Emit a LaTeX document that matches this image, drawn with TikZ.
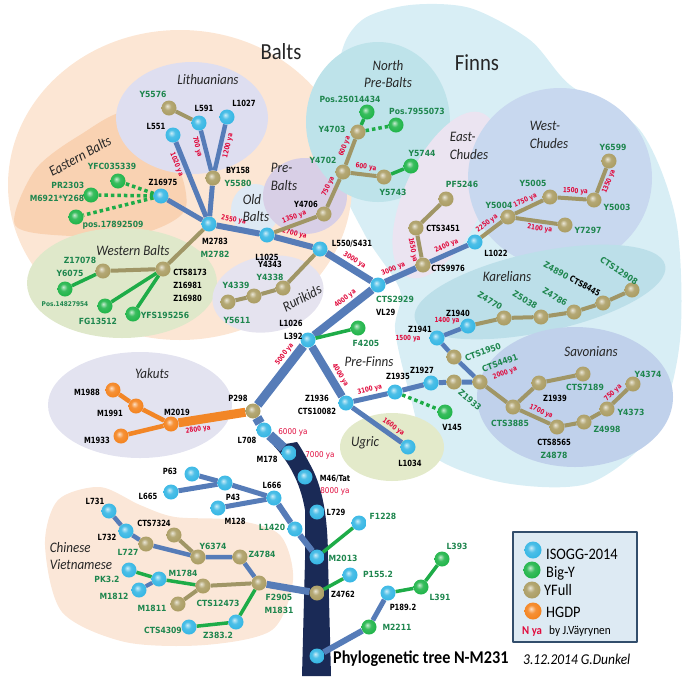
\documentclass[tikz,border=0pt]{standalone}
\usepackage{fontspec}
\setmainfont{Carlito}
\newfontfamily\labfont[FakeStretch=0.8]{DejaVu Sans}
\newfontfamily\glabfont[FakeStretch=0.9]{DejaVu Sans}
\newfontfamily\capfont[FakeStretch=0.9]{Carlito}
\definecolor{isoblue}{RGB}{52,182,228}
\definecolor{bigygreen}{RGB}{30,180,72}
\definecolor{yfullolive}{RGB}{170,156,98}
\definecolor{hgdporange}{RGB}{244,130,28}
\definecolor{edgeblue}{RGB}{86,124,184}
\definecolor{edgeolive}{RGB}{160,150,102}
\definecolor{edgegreen}{RGB}{30,172,72}
\definecolor{edgeorange}{RGB}{242,134,38}
\definecolor{trunknavy}{RGB}{26,42,86}
\definecolor{labgreen}{RGB}{30,134,78}
\definecolor{yared}{RGB}{224,10,60}
\definecolor{rBalts}{RGB}{252,230,212}
\definecolor{rEast}{RGB}{249,210,178}
\definecolor{rLith}{RGB}{222,222,240}
\definecolor{rWest}{RGB}{223,232,202}
\definecolor{rOld}{RGB}{222,233,244}
\definecolor{rPre}{RGB}{216,207,230}
\definecolor{rRuri}{RGB}{229,227,239}
\definecolor{rFinns}{RGB}{216,238,245}
\definecolor{rNorth}{RGB}{190,227,234}
\definecolor{rEastCh}{RGB}{235,228,241}
\definecolor{rWestCh}{RGB}{200,216,239}
\definecolor{rKar}{RGB}{188,223,233}
\definecolor{rSavo}{RGB}{192,209,235}
\definecolor{rUgric}{RGB}{227,234,202}
\definecolor{rYak}{RGB}{227,227,240}
\definecolor{rChina}{RGB}{251,231,216}
\definecolor{legbg}{RGB}{221,234,243}
\definecolor{legline}{RGB}{50,78,108}
\newcommand\gtxt[1]{{\glabfont\color{labgreen}#1}}
\newcommand\mkball[2]{\pgfdeclareradialshading{#1}{\pgfpoint{-6bp}{7bp}}{color(0bp)=(#2!25!white); color(12bp)=(#2!88!white); color(28bp)=(#2); color(40bp)=(#2!82!black); color(50bp)=(#2!62!black)}}
\mkball{isoball}{isoblue}
\mkball{bigyball}{bigygreen}
\mkball{yfullball}{yfullolive}
\mkball{hgdpball}{hgdporange}
\pgfdeclarelayer{regions}
\pgfdeclarelayer{edges}
\pgfsetlayers{regions,edges,main}

\begin{document}
\begin{tikzpicture}[x=1pt, y=-1pt, line join=round,
  iso/.style={circle, inner sep=0pt, minimum size=15pt, shading=isoball},
  bigy/.style={iso, shading=bigyball},
  yfull/.style={iso, shading=yfullball},
  hgdp/.style={iso, shading=hgdpball},
  lbl/.style={font=\labfont\bfseries\fontsize{8.5}{13}\selectfont, text=black, inner sep=0pt, align=center},
  glbl/.style={lbl, font=\glabfont\bfseries\fontsize{8.5}{13}\selectfont, text=labgreen},
  smlbl/.style={glbl, font=\glabfont\bfseries\fontsize{6.5}{8}\selectfont},
  ya/.style={font=\labfont\bfseries\fontsize{7}{8}\selectfont, text=yared, inner sep=0.5pt},
  yatxt/.style={font=\glabfont\fontsize{8}{9}\selectfont, text=yared, inner sep=0pt},
  yaa/.style={ya, sloped, above=1.5pt},
  yab/.style={ya, sloped, below=1.5pt},
  lp/.style 2 args={anchor=center, xshift=#1pt, yshift={-1pt*(#2)}},
  reg/.style={font=\capfont\itshape\fontsize{14.5}{17.5}\selectfont, text=black!85, inner sep=0pt, align=left},
  ttl/.style={font=\capfont\fontsize{23}{26}\selectfont, text=black!85, inner sep=0pt},
  legtxt/.style={font=\capfont\fontsize{16}{18}\selectfont, inner sep=0pt, anchor=base west},
  mainedge/.style={draw=edgeblue, line width=9pt},
  bedge/.style={draw=edgeblue, line width=5pt},
  oedge/.style={draw=edgeolive, line width=4pt},
  gedge/.style={draw=edgegreen, line width=3.5pt},
  gdot/.style={gedge, dash pattern=on 3.5pt off 3pt},
  oredge/.style={draw=edgeorange, line width=4.5pt}]
\useasboundingbox (0,0) rectangle (682,681);

% regions
\begin{pgfonlayer}{regions}
\fill[rFinns] plot[smooth cycle] coordinates {(340,60) (362,20) (410,5) (470,8) (530,40) (570,85) (640,130) (676,220) (680,340) (655,430) (590,483) (505,483) (432,455) (410,395) (395,330) (400,290) (365,235) (338,170)};
\fill[rBalts] (180,185) ellipse [x radius=172, y radius=155];
\fill[rEast] plot[smooth cycle] coordinates {(15,225) (35,170) (80,135) (130,112) (175,160) (185,210) (140,234) (70,236)};
\fill[rLith] (192,118) ellipse [x radius=76, y radius=56];
\fill[rWest] (122,283) ellipse [x radius=95, y radius=55];
\fill[rOld] (255,210) ellipse [x radius=24, y radius=26];
\fill[rPre] (305,196) ellipse [x radius=42, y radius=38];
\fill[rRuri, rotate around={10:(268,294)}] (268,294) ellipse [x radius=56, y radius=38];
\fill[rNorth] (378,122) ellipse [x radius=72, y radius=80];
\fill[rEastCh, rotate around={-25:(445,195)}] (445,195) ellipse [x radius=40, y radius=90];
\fill[rWestCh] (560,178) ellipse [x radius=92, y radius=90];
\fill[rKar, rotate around={12:(540,292)}] (540,292) ellipse [x radius=128, y radius=40];
\fill[rSavo] (575,397) ellipse [x radius=98, y radius=70];
\fill[rUgric] (392,447) ellipse [x radius=52, y radius=34];
\fill[rYak] (140,405) ellipse [x radius=92, y radius=53];
\fill[rChina] plot[smooth cycle] coordinates {(45,545) (58,500) (100,487) (140,505) (175,517) (235,520) (280,535) (293,580) (272,630) (205,645) (125,642) (62,612)};
\end{pgfonlayer}

% region names
\node[ttl] (tBalts) at (281,52) {Balts};
\node[ttl] (tFinns) at (477,63) {Finns};
\node[reg] (tLith) at (208,80) {Lithuanians};
\node[reg, rotate=29] (tEastB) at (80,156) {Eastern Balts};
\node[reg] (tWestB) at (133,251) {Western Balts};
\node[reg, align=center] (tNorth) at (388,74) {North\\Pre-Balts};
\node[reg] (tPreB) at (284,177) {Pre-\\Balts};
\node[reg] (tOldB) at (256,208) {Old\\Balts};
\node[reg, rotate=28] (tRuri) at (302,298) {Rurikids};
\node[reg] (tEastCh) at (469,146) {East-\\Chudes};
\node[reg] (tWestCh) at (549,135) {West-\\Chudes};
\node[reg] (tKar) at (507,277) {Karelians};
\node[reg] (tSavo) at (591,352) {Savonians};
\node[reg] (tPreF) at (369,362) {Pre-Finns};
\node[reg] (tUgric) at (365,443) {Ugric};
\node[reg] (tYak) at (152,374) {Yakuts};
\node[reg] (tChina) at (81,556) {Chinese\\Vietnamese};

% Balts
\node[yfull, label={[glbl,lp={-16}{-14}]center:Y5576}] (Y5576) at (169,108) {};
\node[iso, label={[lbl,lp={5}{-15}]center:L591}] (L591) at (199,123) {};
\node[iso, label={[lbl,lp={17}{-14}]center:L1027}] (L1027) at (227,117) {};
\node[iso, label={[lbl,lp={-17}{-9}]center:L551}] (L551) at (173,135) {};
\node[yfull, label={[lbl,lp={25}{-1}]center:BY158\\\gtxt{Y5580}}] (BY158) at (213,178) {};
\node[iso, label={[lbl,lp={6}{24}]center:M2783\\\gtxt{M2782}}] (M2783) at (209,224) {};
\node[iso, label={[lbl,lp={2}{-14}]center:Z16975}] (Z16975) at (161,196) {};
\node[bigy, label={[glbl,lp={-6}{-15}]center:YFC035339}] (YFC035339) at (118,181) {};
\node[bigy, label={[glbl,align=right,lp={-34}{-3}]center:PR2303\\M6921*Y268}] (PR2303) at (91,195) {};
\node[bigy, label={[glbl,lp={37}{8}]center:pos.17892509}] (pos17892509) at (76,217) {};
\node[yfull, label={[lbl,align=left,lp={27}{16}]center:CTS8173\\Z16981\\Z16980}] (CTS8173) at (163,269) {};
\node[yfull, label={[glbl,lp={-23}{-11}]center:Z17078}] (Z17078) at (103,271) {};
\node[bigy, label={[glbl,lp={5}{-16}]center:Y6075}, label={[smlbl,lp={0}{15}]center:Pos.14827954}] (Y6075) at (65,289) {};
\node[bigy, label={[glbl,lp={-7}{15}]center:FG13512}] (FG13512) at (105,306) {};
\node[bigy, label={[glbl,lp={32}{1}]center:YFS195256}] (YFS195256) at (133,314) {};

% Pre-Balts, North Pre-Balts, Rurikids
\node[iso, label={[lbl,lp={0}{22}]center:L1025}] (L1025) at (267,235) {};
\node[yfull, label={[lbl,lp={-18}{-10}]center:Y4706}] (Y4706) at (324,214) {};
\node[yfull, label={[glbl,lp={-20}{-12}]center:Y4702}] (Y4702) at (343,172) {};
\node[yfull, label={[glbl,lp={-26}{-3}]center:Y4703}] (Y4703) at (358,132) {};
\node[bigy, label={[glbl,lp={-17}{-13}]center:Pos.25014434}] (Pos25014434) at (367,112) {};
\node[bigy, label={[glbl,lp={21}{-14}]center:Pos.7955073}] (Pos7955073) at (396,125) {};
\node[yfull, label={[glbl,lp={9}{15}]center:Y5743}] (Y5743) at (384,177) {};
\node[bigy, label={[glbl,lp={11}{-13}]center:Y5744}] (Y5744) at (411,166) {};
\node[yfull, label={[lbl,lp={-13}{-17}]center:Y4343\\\gtxt{Y4338}}] (Y4343) at (283,288) {};
\node[yfull, label={[glbl,lp={-18}{-11}]center:Y4339}] (Y4339) at (254,296) {};
\node[yfull, label={[glbl,lp={9}{18}]center:Y5611}] (Y5611) at (228,302) {};

% main line and Pre-Finns
\node[iso, label={[lbl,lp={32}{-5}]center:L550/S431}] (L550) at (320,249) {};
\node[iso, label={[lbl,align=left,lp={17}{21}]center:\gtxt{CTS2929}\\VL29}] (CTS2929) at (378,285) {};
\node[iso, label={[lbl,align=right,lp={-17}{-10}]center:L1026\\L392}] (L1026) at (308,340) {};
\node[bigy, label={[glbl,lp={8}{15}]center:F4205}] (F4205) at (358,328) {};
\node[iso, label={[lbl,lp={-29}{2}]center:Z1936\\CTS10082}] (Z1936) at (346,403) {};
\node[iso, label={[lbl,lp={3}{-16}]center:Z1935}] (Z1935) at (395,392) {};
\node[iso, label={[lbl,lp={-9}{-13}]center:Z1927}] (Z1927) at (431,383) {};
\node[iso, label={[lbl,lp={-17}{-9}]center:Z1941}, label={[ya,lp={-29}{1}]center:1500 ya}] (Z1941) at (437,338) {};
\node[iso, label={[lbl,lp={-10}{-13}]center:Z1940}, label={[ya,lp={-21}{-5}]center:1400 ya}] (Z1940) at (468,326) {};
\node[bigy, label={[lbl,lp={7}{15}]center:V145}] (V145) at (445,412) {};
\node[iso, label={[lbl,lp={2}{16}]center:L1034}] (L1034) at (408,447) {};

% Finns
\node[yfull, label={[lbl,lp={25}{3}]center:CTS9976}] (CTS9976) at (423,265) {};
\node[yfull, label={[lbl,lp={27}{0}]center:CTS3451}] (CTS3451) at (416,228) {};
\node[yfull, label={[glbl,lp={16}{-15}]center:PF5246}] (PF5246) at (446,199) {};
\node[iso, label={[lbl,lp={21}{11}]center:L1022}] (L1022) at (475,242) {};
\node[yfull, label={[glbl,lp={-9}{-12}]center:Y5004}] (Y5004) at (508,217) {};
\node[yfull, label={[glbl,lp={-17}{-14}]center:Y5005}] (Y5005) at (550,197) {};
\node[yfull, label={[glbl,lp={23}{7}]center:Y5003}] (Y5003) at (594,200) {};
\node[yfull, label={[glbl,lp={4}{-14}]center:Y6599}] (Y6599) at (609,161) {};
\node[yfull, label={[glbl,lp={23}{5}]center:Y7297}] (Y7297) at (565,225) {};
\node[yfull] (Z4770) at (504,318) {};
\node[yfull] (Z5038) at (541,317) {};
\node[yfull] (Z4786) at (574,312) {};
\node[yfull] (CTS8445) at (603,303) {};
\node[yfull] (CTS12908) at (632,290) {};
\node[glbl, rotate=-30] (tZ4770) at (490,301) {Z4770};
\node[glbl, rotate=-30] (tZ5038) at (525,300) {Z5038};
\node[glbl, rotate=-30] (tZ4786) at (555,297) {Z4786};
\node[glbl, rotate=-28] (tCTS8445) at (572,279) {Z4890 {\labfont\color{black}CTS8445}};
\node[glbl, rotate=-33] (tCTS12908) at (619,271) {CTS12908};
\node[yfull] (CTS1950) at (454,357) {};
\node[yfull] (Z1933) at (454,382) {};
\node[yfull] (CTS4491) at (480,382) {};
\node[glbl, rotate=20] (tCTS1950) at (483,352) {CTS1950};
\node[glbl, rotate=20] (tCTS4491) at (500,363) {CTS4491};
\node[ya, rotate=20] (t2000) at (505,373) {2000 ya};
\node[glbl, rotate=-40] (tZ1933) at (470,400) {Z1933};
\node[yfull, label={[glbl,lp={-3}{16}]center:CTS3885}] (CTS3885) at (513,407) {};
\node[yfull, label={[lbl,lp={16}{15}]center:Z1939}] (Z1939) at (539,383) {};
\node[yfull, label={[glbl,lp={2}{13}]center:CTS7189}] (CTS7189) at (583,374) {};
\node[yfull, label={[lbl,lp={-3}{22}]center:CTS8565\\\gtxt{Z4878}}] (CTS8565) at (557,427) {};
\node[yfull, label={[glbl,lp={23}{7}]center:Z4998}] (Z4998) at (584,422) {};
\node[yfull, label={[glbl,lp={24}{3}]center:Y4373}] (Y4373) at (607,409) {};
\node[yfull, label={[glbl,lp={15}{-10}]center:Y4374}] (Y4374) at (633,384) {};

% Yakuts and trunk
\node[yfull, label={[lbl,lp={-15}{-13}]center:P298}] (P298) at (253,411) {};
\node[hgdp, label={[lbl,lp={6}{-12}]center:M2019}] (M2019) at (171,424) {};
\node[hgdp, label={[lbl,lp={-26}{2}]center:M1988}] (M1988) at (113,390) {};
\node[hgdp, label={[lbl,lp={-26}{7}]center:M1991}] (M1991) at (136,406) {};
\node[hgdp, label={[lbl,lp={-24}{4}]center:M1933}] (M1933) at (121,436) {};
\node[iso, label={[lbl,lp={-17}{10}]center:L708}, label={[yatxt,lp={29}{2}]center:6000 ya}] (L708) at (264,430) {};
\node[iso, label={[lbl,lp={-22}{6}]center:M178}, label={[yatxt,lp={31}{2}]center:7000 ya}] (M178) at (289,453) {};
\node[iso, label={[lbl,lp={30}{2}]center:M46/Tat}, label={[yatxt,lp={30}{14}]center:8000 ya}] (M46) at (305,477) {};
\node[iso, label={[lbl,lp={19}{0}]center:L729}] (L729) at (317,512) {};
\node[iso, label={[glbl,lp={26}{1}]center:M2013}] (M2013) at (317,557) {};
\node[yfull, label={[lbl,lp={26}{1}]center:Z4762}] (Z4762) at (317,593) {};
\node[iso] (root) at (317,656) {};
\node[iso, label={[glbl,lp={24}{-7}]center:F1228}] (F1228) at (359,523) {};
\node[iso, label={[glbl,lp={28}{-1}]center:P155.2}] (P1552) at (350,575) {};
\node[bigy, label={[glbl,lp={28}{0}]center:M2211}] (M2211) at (369,627) {};
\node[iso, label={[lbl,lp={15}{14}]center:P189.2}] (P1892) at (388,593) {};
\node[bigy, label={[glbl,lp={19}{10}]center:L391}] (L391) at (421,587) {};
\node[bigy, label={[glbl,lp={15}{-13}]center:L393}] (L393) at (442,559) {};
\node[iso, label={[lbl,lp={-22}{-3}]center:P63}] (P63) at (192,474) {};
\node[iso, label={[lbl,lp={-23}{4}]center:L665}] (L665) at (171,492) {};
\node[iso, label={[lbl,lp={8}{14}]center:P43}] (P43) at (225,483) {};
\node[iso, label={[lbl,lp={17}{13}]center:M128}] (M128) at (218,508) {};
\node[iso, label={[lbl,lp={-2}{-13}]center:L666}] (L666) at (274,498) {};
\node[iso, label={[glbl,lp={-23}{-2}]center:L1420}] (L1420) at (295,529) {};

% Chinese, Vietnamese
\node[iso, label={[lbl,lp={-14}{-10}]center:L731}] (L731) at (109,511) {};
\node[iso, label={[lbl,lp={-19}{6}]center:L732}] (L732) at (126,531) {};
\node[yfull, label={[glbl,lp={-18}{8}]center:L727}] (L727) at (146,544) {};
\node[yfull, label={[lbl,lp={-20}{-12}]center:CTS7324}] (CTS7324) at (174,535) {};
\node[yfull, label={[glbl,lp={15}{-11}]center:Y6374}] (Y6374) at (198,557) {};
\node[yfull, label={[glbl,lp={22}{-3}]center:Z4784}] (Z4784) at (240,557) {};
\node[iso, label={[glbl,lp={-22}{9}]center:PK3.2}] (PK32) at (129,570) {};
\node[iso, label={[glbl,lp={24}{-6}]center:M1784}] (M1784) at (159,579) {};
\node[iso, label={[glbl,lp={-25}{6}]center:M1812}] (M1812) at (139,590) {};
\node[yfull, label={[glbl,lp={15}{17}]center:CTS12473}] (CTS12473) at (203,586) {};
\node[yfull, label={[glbl,lp={-26}{4}]center:M1811}] (M1811) at (178,604) {};
\node[iso, label={[glbl,lp={-26}{3}]center:CTS4309}] (CTS4309) at (189,627) {};
\node[iso, label={[glbl,lp={-18}{13}]center:Z383.2}] (Z3832) at (236,622) {};
\node[yfull, label={[glbl,lp={20}{21}]center:F2905\\M1831}] (F2905) at (259,583) {};

% connectors
\begin{pgfonlayer}{edges}
\fill[trunknavy] (274,446) .. controls (287,460) and (300,480) .. (305,510) -- (305,560) -- (302,676) -- (331,676) -- (328,560) .. controls (328,515) and (322,488) .. (312,468) .. controls (306,457) and (302,449) .. (297,442) -- cycle;
\draw[mainedge, line width=10pt] (P298) -- (L708) -- (M178);
\draw[mainedge] (P298) -- node[yaa, pos=.76] {5000 ya} (L1026);
\draw[mainedge, line width=8pt] (L1026) -- node[yaa, pos=.64] {4000 ya} (CTS2929);
\draw[mainedge, line width=7pt] (L550) -- node[yaa, pos=.52] {3000 ya} (CTS2929);
\draw[bedge, line width=6pt] (L1025) -- node[yaa, pos=.47] {2700 ya} (L550);
\draw[bedge, line width=6pt] (M2783) -- node[yaa, pos=.36] {2550 ya} (L1025);
\draw[bedge] (L551) -- node[yab, pos=.26] {1020 ya} (M2783);
\draw[bedge] (M2783) -- (BY158);
\draw[bedge, line width=4.5pt] (L591) -- node[yab, pos=.36] {700 ya} (BY158);
\draw[bedge, line width=4.5pt] (BY158) -- node[yab, pos=.57] {1200 ya} (L1027);
\draw[bedge] (M2783) -- (Z16975);
\draw[bedge, line width=6pt] (CTS2929) -- node[yaa, pos=.38] {3000 ya} (CTS9976);
\draw[bedge] (CTS9976) -- node[yaa, pos=.52] {2400 ya} (L1022);
\draw[mainedge, line width=8pt] (L1026) -- node[yaa, pos=.67] {4000 ya} (Z1936);
\draw[bedge] (Z1936) -- node[yaa, pos=.53] {3100 ya} (Z1935);
\draw[bedge] (Z1936) -- node[yaa, pos=.74] {1600 ya} (L1034);
\draw[bedge] (Z1935) -- (Z1927) -- (Z1933) -- (CTS4491);
\draw[bedge, line width=4.5pt] (Z1941) -- (Z1940);
\draw[bedge, line width=4.5pt] (Z1941) -- (CTS1950) -- (CTS4491);
\draw[bedge] (P63) -- (P43) -- (L666);
\draw[bedge] (L665) -- (P43);
\draw[bedge] (M128) -- (L666);
\draw[bedge, line width=6pt] (L666) -- (L1420) -- (M2013);
\draw[bedge, line width=7pt] (F2905) -- (Z4762);
\draw[bedge, line width=4.5pt] (L731) -- (L732) -- (L727) -- (Y6374) -- (Z4784) -- (F2905);
\draw[bedge, line width=4pt] (M1812) -- (M1784);
\draw[bedge, line width=6pt] (root) -- (M2211);
\draw[bedge] (M2211) -- (P1892);
\draw[oredge, line width=9pt] (M2019) -- node[yab, pos=.27] {2800 ya} (P298);
\draw[oredge] (M1988) -- (M1991) -- (M2019);
\draw[oredge] (M1933) -- (M2019);
\draw[oedge] (Y5576) -- (L591);
\draw[oedge] (M2783) -- (CTS8173) -- (Z17078);
\draw[oedge] (L1025) -- node[yaa, pos=.53] {1350 ya} (Y4706);
\draw[oedge] (Y4706) -- node[yaa, pos=.62] {750 ya} (Y4702);
\draw[oedge] (Y4702) -- node[yaa, pos=.62] {600 ya} (Y4703);
\draw[oedge] (Y4702) -- node[yaa, pos=.56] {600 ya} (Y5743);
\draw[oedge] (L550) -- (Y4343) -- (Y4339) -- (Y5611);
\draw[oedge] (CTS3451) -- node[yab, pos=.6] {1650 ya} (CTS9976);
\draw[oedge] (CTS3451) -- (PF5246);
\draw[oedge] (L1022) -- node[yaa, pos=.5] {2250 ya} (Y5004);
\draw[oedge] (Y5004) -- node[yaa, pos=.48] {1750 ya} (Y5005);
\draw[oedge] (Y5005) -- node[yaa, pos=.6] {1500 ya} (Y5003);
\draw[oedge] (Y5003) -- node[yab, pos=.56] {1350 ya} (Y6599);
\draw[oedge] (Y5004) -- node[yab, pos=.6] {2100 ya} (Y7297);
\draw[oedge] (Z1940) -- (Z4770) -- (Z5038) -- (Z4786) -- (CTS8445) -- (CTS12908);
\draw[oedge] (CTS4491) -- (CTS3885) -- (Z1939) -- (CTS7189);
\draw[oedge] (CTS3885) -- node[yaa, pos=.6] {1700 ya} (CTS8565);
\draw[oedge] (CTS8565) -- (Z4998) -- (Y4373);
\draw[oedge] (Y4373) -- node[yaa, pos=.38] {750 ya} (Y4374);
\draw[oedge] (CTS7324) -- (Y6374);
\draw[oedge] (M1811) -- (CTS12473) -- (F2905);
\draw[gedge] (Y4703) -- (Pos25014434);
\draw[gedge] (Y5743) -- (Y5744);
\draw[gedge] (Z17078) -- (Y6075);
\draw[gedge] (CTS8173) -- (FG13512);
\draw[gedge] (CTS8173) -- (YFS195256);
\draw[gedge] (L1026) -- (F4205);
\draw[gedge] (M2013) -- (F1228);
\draw[gedge] (Z4762) -- (P1552);
\draw[gedge] (P1892) -- (L391) -- (L393);
\draw[gedge] (PK32) -- (M1784) -- (CTS12473);
\draw[gedge] (CTS4309) -- (Z3832) -- (F2905);
\draw[gdot] (Z16975) -- (YFC035339);
\draw[gdot] (Z16975) -- (PR2303);
\draw[gdot] (Z16975) -- (pos17892509);
\draw[gdot] (Y4703) -- (Pos7955073);
\draw[gdot] (Z1935) -- (V145);
\end{pgfonlayer}

% legend
\node[draw=legline, line width=2.5pt, fill=legbg, minimum width=124pt, minimum height=110pt, inner sep=0pt] (legend) at (575,587) {};
\node[iso, minimum size=17pt] (kISO) at (533,550) {};
\node[bigy, minimum size=17pt] (kBigY) at (532,570) {};
\node[yfull, minimum size=17pt] (kYFull) at (532,590) {};
\node[hgdp, minimum size=17pt] (kHGDP) at (533,611) {};
\node[legtxt] (tISO) at (546,559) {ISOGG-2014};
\node[legtxt] (tBigY) at (546,577) {Big-Y};
\node[legtxt] (tYFull) at (544,595) {YFull};
\node[legtxt] (tHGDP) at (546,617) {HGDP};
\node[legtxt, font=\capfont\bfseries\fontsize{12}{14}\selectfont, text=yared] (tNya) at (522,634) {N ya};
\node[legtxt, font=\capfont\fontsize{12.5}{14}\selectfont] (tAuthor) at (549,634) {by J.Väyrynen};

% title
\node[font=\capfont\bfseries\fontsize{18}{20}\selectfont, anchor=base west, inner sep=0pt] (title) at (333,663) {Phylogenetic tree N-M231};
\node[font=\capfont\itshape\fontsize{15}{17}\selectfont, anchor=base west, inner sep=0pt] (date) at (523,664) {3.12.2014 G.Dunkel};
\end{tikzpicture}
\end{document}
